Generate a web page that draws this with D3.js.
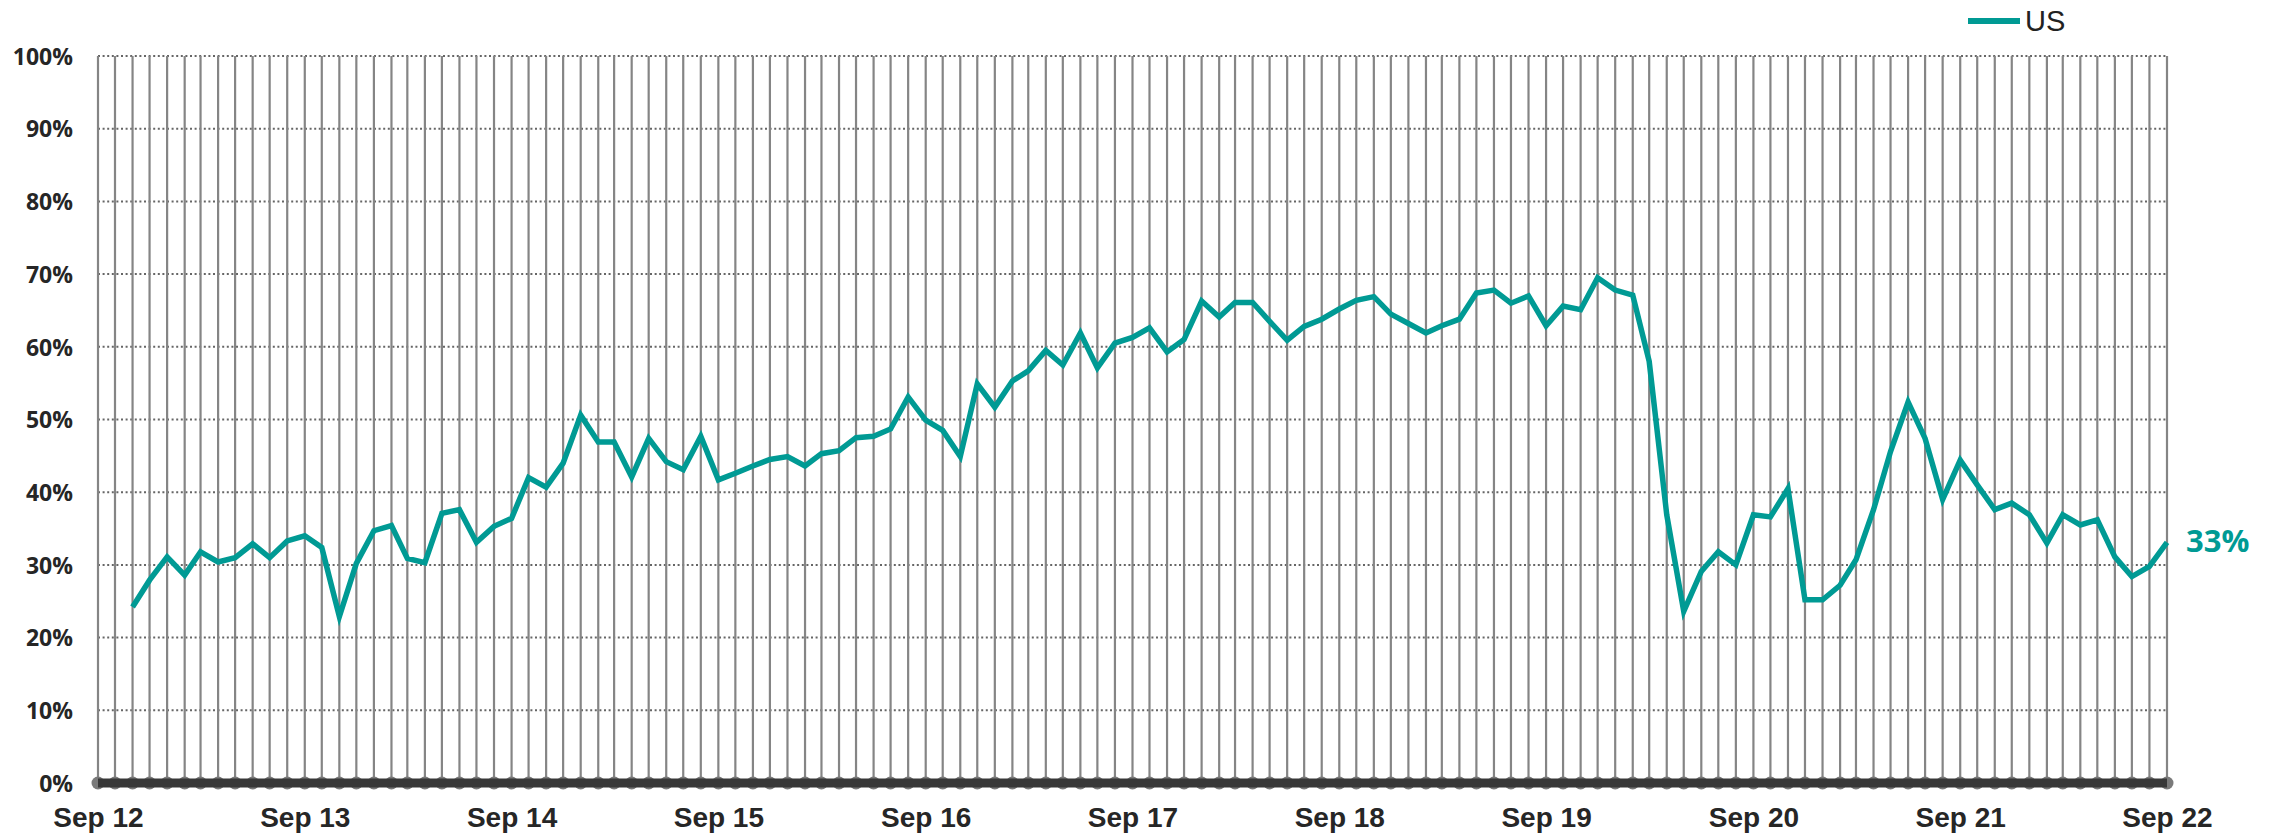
<!DOCTYPE html>
<html>
<head>
    <meta charset="utf-8">
    <title>US share</title>
    <style>
        html, body { margin: 0; padding: 0; background: #fff; }
        svg { display: block; }
        .ylab { font-family: "Open Sans", sans-serif; font-weight: 700; font-size: 23px; fill: #262626; }
        .xlab { font-family: "Liberation Sans", Arial, sans-serif; font-weight: 700; font-size: 28px; fill: #262626; }
        .legend { font-family: "Liberation Sans", Arial, sans-serif; font-size: 29px; fill: #222; }
        .endlab { font-family: "Open Sans", sans-serif; font-weight: 700; font-size: 31px; fill: #009a94; }
    </style>
</head>
<body>
<svg id="chart" width="2270" height="834"></svg>
<script src="https://d3js.org/d3.v7.min.js"></script>
<script>
    // monthly, Sep 2012 .. Sep 2022 (first two months have no value)
    const firstMonth = new Date(2012, 8, 1);
    const lastMonth = new Date(2022, 8, 1);
    const usValues = [
        null, null, 24.2, 27.9, 31.1, 28.6, 31.8, 30.4, 31.0, 32.9, 31.0, 33.3,
        34.0, 32.4, 22.9, 30.2, 34.7, 35.4, 30.9, 30.3, 37.1, 37.6, 33.1, 35.3,
        36.4, 42.0, 40.7, 44.0, 50.6, 46.9, 46.9, 42.1, 47.4, 44.2, 43.1, 47.7,
        41.7, 42.6, 43.6, 44.5, 44.9, 43.6, 45.3, 45.7, 47.5, 47.7, 48.7, 53.1,
        49.9, 48.5, 44.9, 54.9, 51.7, 55.3, 56.7, 59.5, 57.5, 61.9, 57.1, 60.5,
        61.3, 62.6, 59.3, 61.0, 66.3, 64.1, 66.1, 66.1, 63.5, 60.9, 62.8, 63.8,
        65.2, 66.4, 66.9, 64.5, 63.2, 61.9, 62.9, 63.8, 67.4, 67.8, 66.0, 67.0,
        62.9, 65.6, 65.1, 69.5, 67.8, 67.1, 58.0, 36.9, 23.6, 29.1, 31.8, 30.0,
        36.9, 36.6, 40.5, 25.2, 25.2, 27.2, 30.7, 37.6, 45.6, 52.4, 47.4, 39.0,
        44.4, 41.0, 37.6, 38.5, 36.9, 33.0, 36.9, 35.5, 36.2, 31.1, 28.4, 29.8,
        33.1
    ];
    const xTickLabels = ["Sep 12", "Sep 13", "Sep 14", "Sep 15", "Sep 16", "Sep 17",
                         "Sep 18", "Sep 19", "Sep 20", "Sep 21", "Sep 22"];
    const yTicks = [0, 10, 20, 30, 40, 50, 60, 70, 80, 90, 100];
    const seriesName = "US";
    const endLabel = "33%";

    const teal = "#009a94";
    const months = d3.timeMonth.range(firstMonth, d3.timeMonth.offset(lastMonth, 1));
    const data = months.map((d, i) => ({ date: d, value: usValues[i] }));

    const svg = d3.select("#chart");
    const plotL = 98, plotR = 2167, plotT = 56, plotB = 783;

    const x = d3.scaleTime().domain([firstMonth, lastMonth]).range([plotL, plotR]);
    const y = d3.scaleLinear().domain([0, 100]).range([plotB, plotT]);

    // horizontal dotted grid
    svg.append("g").selectAll("line")
        .data(yTicks.filter(t => t > 0))
        .join("line")
        .attr("x1", plotL).attr("x2", plotR)
        .attr("y1", d => y(d)).attr("y2", d => y(d))
        .attr("stroke", "#666").attr("stroke-width", 2)
        .attr("stroke-dasharray", "2,2.6");

    // vertical month lines
    svg.append("g").selectAll("line")
        .data(months)
        .join("line")
        .attr("x1", d => x(d)).attr("x2", d => x(d))
        .attr("y1", y(100)).attr("y2", y(0))
        .attr("stroke", "#858585").attr("stroke-width", 2.2);

    // baseline: dots + heavy bar
    svg.append("g").selectAll("circle")
        .data(months)
        .join("circle")
        .attr("cx", d => x(d)).attr("cy", y(0)).attr("r", 6.5)
        .attr("fill", "#7a7a7a");
    svg.append("line")
        .attr("x1", x(firstMonth)).attr("x2", x(lastMonth))
        .attr("y1", y(0)).attr("y2", y(0))
        .attr("stroke", "#383838").attr("stroke-width", 9);

    // y axis labels
    const yAxis = d3.axisLeft(y).tickValues(yTicks).tickFormat(d => d + "%").tickSize(0).tickPadding(0);
    const ya = svg.append("g").attr("transform", `translate(${plotL - 25},0)`).call(yAxis);
    ya.select(".domain").remove();
    ya.attr("font-size", null).attr("font-family", null);
    ya.selectAll("text").attr("class", "ylab").attr("fill", null).attr("dy", "0.36em");

    // x axis labels: every September
    const xTicks = months.filter((d, i) => i % 12 === 0);
    const xAxis = d3.axisBottom(x).tickValues(xTicks).tickFormat((d, i) => xTickLabels[i]).tickSize(0).tickPadding(0);
    const xa = svg.append("g").attr("transform", `translate(0,${plotB + 24})`).call(xAxis);
    xa.select(".domain").remove();
    xa.attr("font-size", null).attr("font-family", null);
    xa.selectAll("text").attr("class", "xlab").attr("fill", null).attr("dy", "0.71em");

    // series line
    const line = d3.line()
        .defined(d => d.value != null)
        .x(d => x(d.date))
        .y(d => y(d.value));
    svg.append("path")
        .datum(data)
        .attr("d", line)
        .attr("fill", "none")
        .attr("stroke", teal)
        .attr("stroke-width", 5.5)
        .attr("stroke-linejoin", "miter");

    // end label
    const last = data[data.length - 1];
    svg.append("text")
        .attr("class", "endlab")
        .attr("x", x(last.date) + 19)
        .attr("y", y(last.value) + 10)
        .text(endLabel);

    // legend
    const lg = svg.append("g").attr("transform", "translate(1968,21)");
    lg.append("line").attr("x1", 0).attr("x2", 52).attr("stroke", teal).attr("stroke-width", 6);
    lg.append("text").attr("class", "legend").attr("x", 57).attr("y", 10).text(seriesName);
</script>
</body>
</html>
